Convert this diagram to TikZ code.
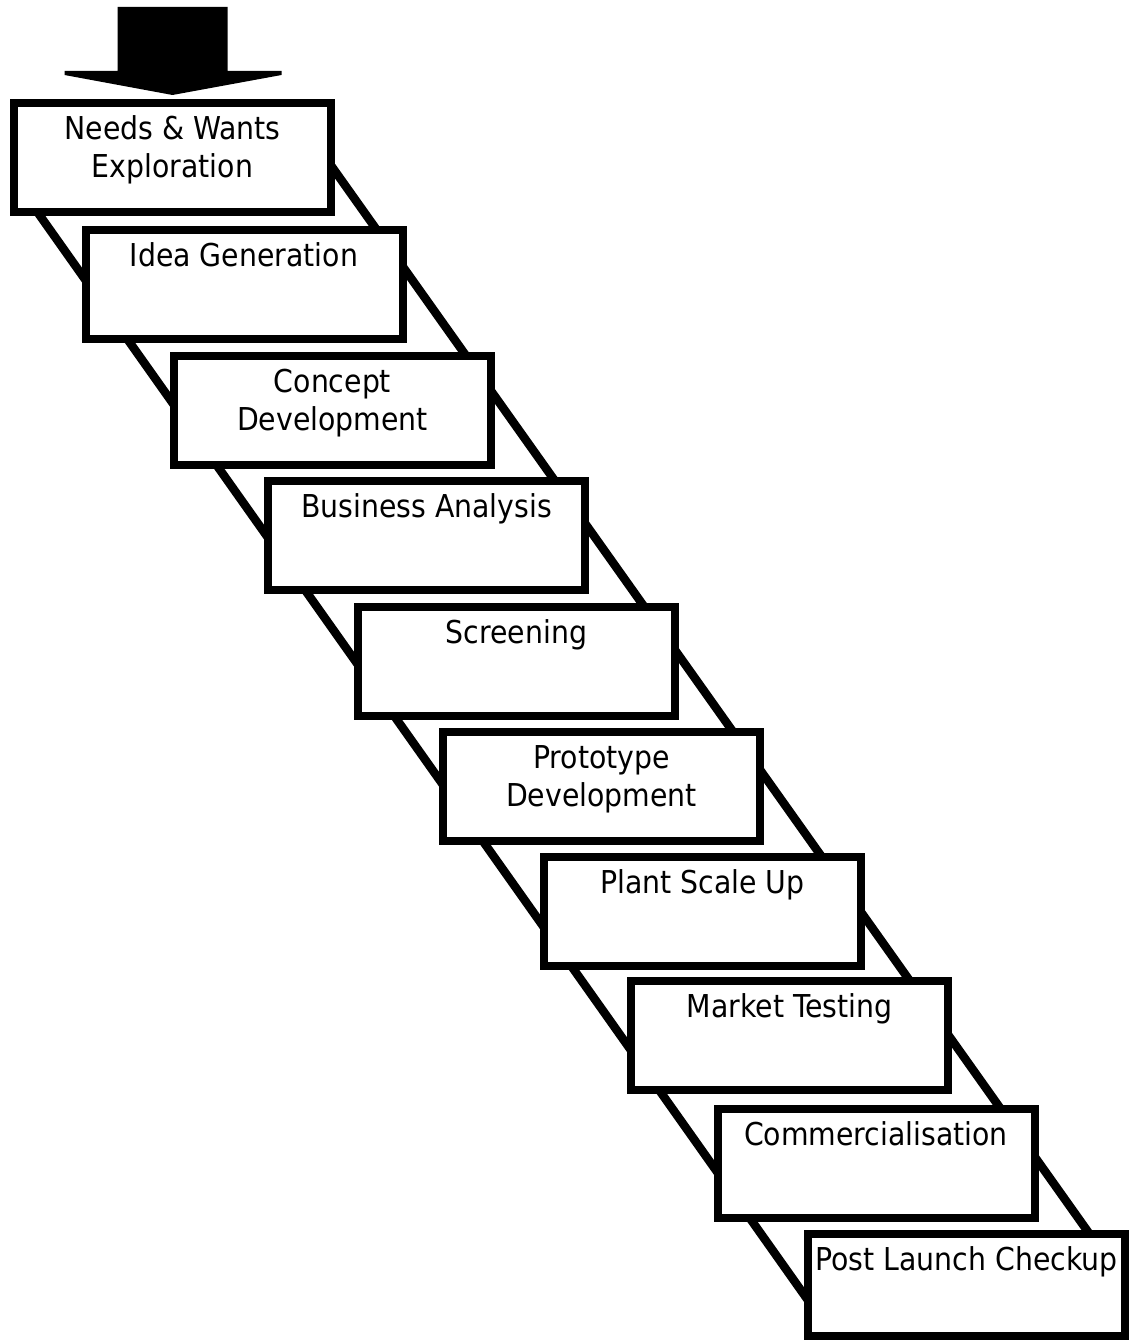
\documentclass[tikz,border=0pt]{standalone}
\usepackage{fontspec}
\setmainfont{DejaVu Sans Condensed}
\usetikzlibrary{calc}
% fixed-height strut so every label's first baseline sits at the same depth
\newcommand\lblstrut{\rule{0pt}{30pt}}
\tikzset{
  stepbox/.style={rectangle, draw=black, fill=white, line width=8pt,
    minimum width=317pt, minimum height=109pt, inner sep=0pt},
  steplabel/.style={anchor=north, inner sep=0pt, align=center,
    font=\fontsize{31.5}{38}\selectfont},
  rail/.style={draw=black, line width=8.5pt},
  bigarrow/.style={fill=black},
}
\begin{document}
\begin{tikzpicture}[x=1pt,y=-1pt]
\useasboundingbox (0,0) rectangle (1129,1343);
\fill[white] (0,0) rectangle (1129,1343);

% rail ends, hidden behind the first and last steps
\coordinate (lrailA) at (14.7,180);
\coordinate (lrailB) at (822,1320);
\coordinate (rrailA) at (320,150);
\coordinate (rrailB) at (1108,1260);
\draw[rail] (lrailA) -- (lrailB);
\draw[rail] (rrailA) -- (rrailB);

% the steps
\node[stepbox] (s1)  at (172.5,157.5) {};
\node[stepbox] (s2)  at (244,284.5)   {};
\node[stepbox] (s3)  at (332.5,410.5) {};
\node[stepbox] (s4)  at (426.5,535)   {};
\node[stepbox] (s5)  at (516.5,661.5) {};
\node[stepbox] (s6)  at (601.5,786.5) {};
\node[stepbox] (s7)  at (702.5,911)   {};
\node[stepbox] (s8)  at (789.5,1035.5){};
\node[stepbox] (s9)  at (876,1163)    {};
\node[stepbox, minimum height=102pt] (s10) at (966.5,1285) {};

% labels, hung from the top edge of each step
\node[steplabel] (t1)  at ($(s1.north)+(0,10.5)$)  {\lblstrut Needs \& Wants\\Exploration};
\node[steplabel] (t2)  at ($(s2.north)+(0,10.5)$)  {\lblstrut Idea Generation};
\node[steplabel] (t3)  at ($(s3.north)+(0,10.5)$)  {\lblstrut Concept\\Development};
\node[steplabel] (t4)  at ($(s4.north)+(0,10.5)$)  {\lblstrut Business Analysis};
\node[steplabel] (t5)  at ($(s5.north)+(0,10.5)$)  {\lblstrut Screening};
\node[steplabel] (t6)  at ($(s6.north)+(0,10.5)$)  {\lblstrut Prototype\\Development};
\node[steplabel] (t7)  at ($(s7.north)+(0,10.5)$)  {\lblstrut Plant Scale Up};
\node[steplabel] (t8)  at ($(s8.north)+(0,10.5)$)  {\lblstrut Market Testing};
\node[steplabel] (t9)  at ($(s9.north)+(0,10.5)$)  {\lblstrut Commercialisation};
\node[steplabel] (t10) at ($(s10.north)+(0,10.5)$) {\lblstrut Post Launch Checkup};

% block arrow pointing into the first step
\coordinate (tip) at ($(s1.north)+(0,-4)$);
\fill[bigarrow] (tip) -- ($(tip)+(109,-20)$) -- ($(tip)+(109,-24)$)
  -- ($(tip)+(55,-24)$) -- ($(tip)+(55,-88)$) -- ($(tip)+(-55,-88)$)
  -- ($(tip)+(-55,-24)$) -- ($(tip)+(-108,-24)$) -- ($(tip)+(-108,-20)$)
  -- cycle;
\end{tikzpicture}
\end{document}
